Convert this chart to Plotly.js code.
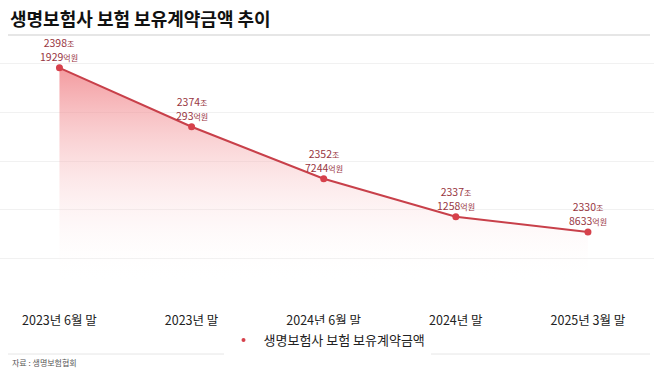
<!DOCTYPE html>
<html>
<head>
<meta charset="utf-8">
<script src="https://cdn.plot.ly/plotly-3.0.1.min.js"></script>
<style>html,body{margin:0;padding:0;background:#fff;}#chart{width:658px;height:369px;}</style>
</head>
<body>
<div id="chart"></div>
<script>
const categories = ["2023년 6월 말", "2023년 말", "2024년 6월 말", "2024년 말", "2025년 3월 말"];
const valuesJo = [2398.1929, 2374.0293, 2352.7244, 2337.1258, 2330.8633];
const joLabels = ["2398", "2374", "2352", "2337", "2330"];
const eokLabels = ["1929", "293", "7244", "1258", "8633"];
const seriesName = "생명보험사 보험 보유계약금액";
const chartTitle = "생명보험사 보험 보유계약금액 추이";
const sourceText = "자료 : 생명보험협회";

const font = "'Noto Sans CJK KR', 'Noto Sans', sans-serif";
const labelColor = "#98363f";

const trace = {
  x: categories,
  y: valuesJo,
  type: "scatter",
  mode: "lines+markers",
  name: seriesName,
  showlegend: false,
  line: {color: "#c8404a", width: 2},
  marker: {color: "#d6414b", size: 7},
  fill: "tozeroy",
  fillgradient: {
    type: "vertical",
    start: 2310,
    stop: 2400,
    colorscale: [[0, "rgba(255,255,255,0)"], [1, "rgba(238,110,116,0.72)"]]
  },
  hoverinfo: "skip",
  cliponaxis: false
};

const legendTrace = {
  x: [null], y: [null],
  type: "scatter", mode: "markers",
  name: seriesName,
  marker: {color: "#d6414b", size: 4},
  showlegend: true,
  hoverinfo: "skip"
};

const valueAnnotations = categories.map((c, i) => ({
  x: c, y: valuesJo[i], xref: "x", yref: "y", showarrow: false,
  text: joLabels[i] + "<span style='font-size:8px'>조</span><br>" +
        eokLabels[i] + "<span style='font-size:8px'>억원</span>",
  yshift: 3, xanchor: "center", yanchor: "bottom", borderpad: 0,
  font: {family: font, size: 10.5, color: labelColor}
}));

const layout = {
  width: 658,
  height: 369,
  margin: {l: 0, r: 4, t: 39, b: 86},
  paper_bgcolor: "#fff",
  plot_bgcolor: "#fff",
  font: {family: font, color: "#222"},
  showlegend: true,
  legend: {
    orientation: "h", x: 0.5, xanchor: "center", y: -0.234, yanchor: "middle",
    font: {family: font, size: 13, color: "#222"},
    itemwidth: 30
  },
  xaxis: {
    type: "category",
    range: [-0.45, 4.5],
    showgrid: false, zeroline: false, showline: false,
    ticks: "",
    ticklabelstandoff: 28,
    tickfont: {family: font, size: 12.5, color: "#222"}
  },
  yaxis: {
    range: [2310, 2410],
    tick0: 2300, dtick: 20,
    showgrid: true, gridcolor: "#f1f1f1", gridwidth: 1,
    zeroline: false, showticklabels: false, showline: false
  },
  annotations: [
    {text: chartTitle, xref: "paper", yref: "paper", x: 0.0122, y: (283 - 18) / 244,
     xanchor: "left", yanchor: "middle", showarrow: false,
     font: {family: font, size: 18, color: "#111", weight: "bold"}},
    {text: sourceText, xref: "paper", yref: "paper", x: 10 / 654, y: (283 - 362) / 244,
     xanchor: "left", yanchor: "middle", showarrow: false,
     font: {family: font, size: 8, color: "#555"}}
  ].concat(valueAnnotations),
  shapes: [
    {type: "line", xref: "paper", yref: "paper", x0: 8 / 654, x1: 650 / 654,
     y0: (283 - 35) / 244, y1: (283 - 35) / 244, line: {color: "#e6e6e6", width: 2}},
    {type: "line", xref: "paper", yref: "paper", x0: 8 / 654, x1: 650 / 654,
     y0: (283 - 354) / 244, y1: (283 - 354) / 244, line: {color: "#e6e6e6", width: 1}}
  ]
};

Plotly.newPlot("chart", [trace, legendTrace], layout, {displayModeBar: false, staticPlot: true});
</script>
</body>
</html>
